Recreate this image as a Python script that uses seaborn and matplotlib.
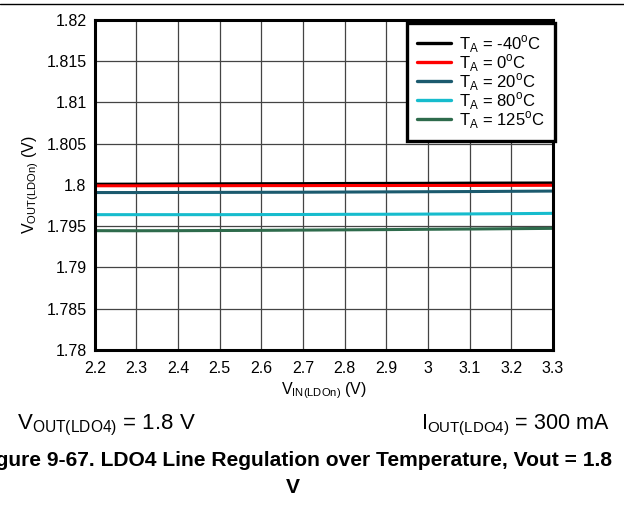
import numpy as np
import pandas as pd
import matplotlib
matplotlib.use('Agg')
import matplotlib.pyplot as plt
import seaborn as sns

# input voltage sweep
vin = [2.2, 2.3, 2.4, 2.5, 2.6, 2.7, 2.8, 2.9, 3.0, 3.1, 3.2, 3.3]

# output voltage per temperature
vout_m40 = [1.80009, 1.8001, 1.80012, 1.80014, 1.80015, 1.80016, 1.80018, 1.80019, 1.8002, 1.80022, 1.80023, 1.80024]
vout_0 = [1.79990, 1.79990, 1.79991, 1.79991, 1.79992, 1.79992, 1.79993, 1.79993, 1.79994, 1.79994, 1.79995, 1.79996]
vout_20 = [1.79908, 1.79908, 1.79909, 1.7991, 1.79911, 1.79912, 1.79914, 1.79916, 1.79918, 1.7992, 1.79923, 1.79926]
vout_80 = [1.7964, 1.7964, 1.7964, 1.7964, 1.79641, 1.79642, 1.79644, 1.79645, 1.79647, 1.79649, 1.79652, 1.79656]
vout_125 = [1.79446, 1.79445, 1.79446, 1.79448, 1.7945, 1.79453, 1.79456, 1.79459, 1.79463, 1.79466, 1.7947, 1.79474]

temps = ['-40', '0', '20', '80', '125']
colors = ['#000000', '#ff0000', '#1b5a6e', '#16bccd', '#2e6b4c']

series = [vout_m40, vout_0, vout_20, vout_80, vout_125]
rows = []
for t, vals in zip(temps, series):
    for x, y in zip(vin, vals):
        rows.append({'vin': x, 'vout': y, 'temp': t})
df = pd.DataFrame(rows)

sns.set_style('white')
plt.rcParams['font.family'] = ['Liberation Sans', 'DejaVu Sans']
plt.rcParams['mathtext.fontset'] = 'custom'
plt.rcParams['mathtext.rm'] = 'Liberation Sans'
plt.rcParams['mathtext.bf'] = 'Liberation Sans:bold'
for k in ['text.color', 'axes.labelcolor', 'xtick.color', 'ytick.color']:
    plt.rcParams[k] = 'black'

fig = plt.figure(figsize=(6.24, 5.07), dpi=100)
ax = fig.add_axes([0.152, 0.3097, 0.734, 0.651])

sns.lineplot(data=df, x='vin', y='vout', hue='temp', hue_order=temps,
             palette=colors, linewidth=2.2, ax=ax, legend=False)

ax.set_xlim(2.2, 3.3)
ax.set_ylim(1.78, 1.82)
ax.set_xticks(vin)
ax.set_xticklabels(['2.2', '2.3', '2.4', '2.5', '2.6', '2.7', '2.8', '2.9', '3', '3.1', '3.2', '3.3'])
yt = [1.78, 1.785, 1.79, 1.795, 1.8, 1.805, 1.81, 1.815, 1.82]
ax.set_yticks(yt)
ax.set_yticklabels(['1.78', '1.785', '1.79', '1.795', '1.8', '1.805', '1.81', '1.815', '1.82'])
ax.tick_params(labelsize=11.5, length=0)
ax.tick_params(axis='x', pad=8)
ax.tick_params(axis='y', pad=6)
ax.grid(True, color='#444444', linewidth=0.9)
for s in ax.spines.values():
    s.set_color('black')
    s.set_linewidth(2.2)

ax.set_xlabel(r'V$_\mathregular{IN(LDOn)}$ (V)', fontsize=11.5, labelpad=3)
ax.set_ylabel(r'V$_\mathregular{OUT(LDOn)}$ (V)', fontsize=11.5, labelpad=4)

handles = [plt.Line2D([], [], color=c, linewidth=2.4) for c in colors]
labels = [r'T$_\mathregular{A}$ = ' + t + r'$^\mathregular{o}$C' for t in temps]
leg = ax.legend(handles, labels, loc='upper right', fontsize=12, frameon=True,
                fancybox=False, borderpad=0.6, labelspacing=-0.16, handlelength=2.0,
                handletextpad=0.5, borderaxespad=0, bbox_to_anchor=(1.0044, 0.991))
leg.get_frame().set_edgecolor('black')
leg.get_frame().set_linewidth(2.4)
leg.get_frame().set_alpha(1)

# rule across the top of the page
fig.add_artist(plt.Line2D([0, 1], [0.992, 0.992], color='black', linewidth=1))

fig.text(0.028, 0.161, r'V$_\mathregular{OUT(LDO4)}$ = 1.8 V', fontsize=16, va='center')
fig.text(0.976, 0.161, r'I$_\mathregular{OUT(LDO4)}$ = 300 mA', fontsize=15.5, va='center', ha='right')
fig.text(0.981, 0.0917, 'Figure 9-67. LDO4 Line Regulation over Temperature, Vout = 1.8',
         fontsize=15.1, fontweight='bold', ha='right', va='center')
fig.text(0.469, 0.038, 'V', fontsize=15.1, fontweight='bold', ha='center', va='center')

fig.savefig('out.png', dpi=100)
